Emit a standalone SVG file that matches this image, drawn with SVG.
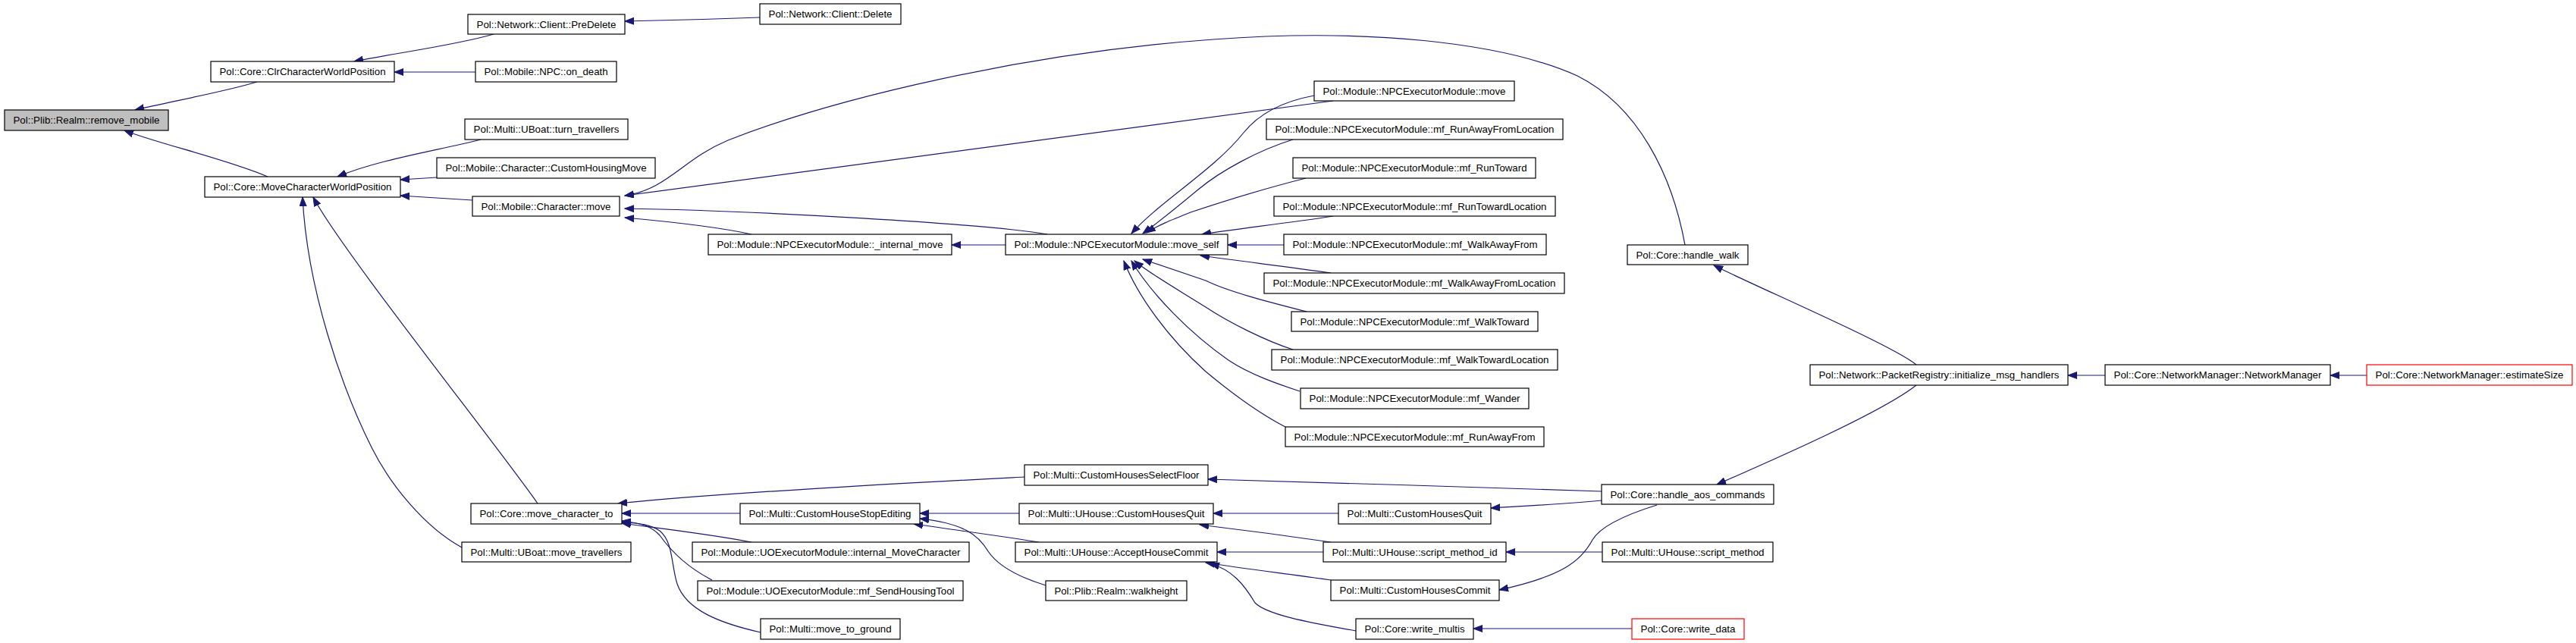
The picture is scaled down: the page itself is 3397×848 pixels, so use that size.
<svg xmlns="http://www.w3.org/2000/svg" width="3397" height="848" viewBox="0 0 3397 848">
<style>
.n rect{fill:#fff;stroke:#000;stroke-width:1.2}
.n text{font-family:"Liberation Sans",Arial,sans-serif;font-size:13px;text-anchor:middle;fill:#000}
.g rect{fill:#bfbfbf}
.r rect{stroke:#ff0000}
.e path{fill:none;stroke:#191970;stroke-width:1.2;marker-end:url(#a)}
</style>
<defs>
<marker id="a" markerUnits="userSpaceOnUse" markerWidth="13" markerHeight="10" viewBox="0 0 13 10" refX="12" refY="5" orient="auto">
<path d="M0,0.5 L12,5 L0,9.5 z" fill="#191970" stroke="#191970" stroke-width="1"/>
</marker>
</defs>
<rect width="3397" height="848" fill="#fff"/>
<g id="edges" class="e">
<path d="M339,108 C300,120 230,133 178,145"/>
<path d="M353,233 C300,210 210,190 164,172"/>
<path d="M651,45 C600,60 520,70 467,81"/>
<path d="M627,95 L520,95"/>
<path d="M1002,23 C950,25 880,27 824,28"/>
<path d="M634,184 C580,198 500,210 445,233"/>
<path d="M576,234 L528,237"/>
<path d="M623,264 L528,258"/>
<path d="M709,664 C650,580 450,330 413,260"/>
<path d="M609,722 C560,695 515,640 490,590 C450,510 405,380 399,260"/>
<path d="M1758,133 L824,258"/>
<path d="M2222,323 C2205,230 2160,140 2080,100 C1980,55 1800,37 1600,52 C1350,70 1100,130 960,185 C900,210 880,250 824,258"/>
<path d="M1381,309 C1300,295 1000,278 824,275"/>
<path d="M991,309 C950,300 880,292 824,287"/>
<path d="M1326,323 L1255,323"/>
<path d="M1733,126 C1690,134 1660,150 1640,175 C1600,225 1530,265 1492,308"/>
<path d="M1705,184 C1660,198 1610,225 1580,250 C1550,275 1525,295 1507,308"/>
<path d="M1722,235 C1670,248 1600,270 1570,280 C1545,290 1525,298 1512,307"/>
<path d="M1758,285 C1700,294 1630,302 1585,309"/>
<path d="M1693,323 L1619,323"/>
<path d="M1755,360 C1700,352 1640,345 1583,337"/>
<path d="M1723,411 C1680,400 1620,385 1590,370 C1560,360 1530,350 1507,342"/>
<path d="M1705,461 C1670,450 1620,425 1590,405 C1550,380 1515,360 1496,344"/>
<path d="M1714,516 C1690,508 1650,495 1620,475 C1570,440 1520,390 1492,344"/>
<path d="M1695,563 C1660,545 1620,515 1590,490 C1540,445 1500,390 1482,344"/>
<path d="M2527,481 C2495,455 2320,380 2260,350"/>
<path d="M2527,508 C2480,545 2330,610 2264,639"/>
<path d="M2112,648 C2000,645 1700,634 1593,632"/>
<path d="M2112,660 C2060,665 2000,668 1966,670"/>
<path d="M2185,666 C2140,680 2110,695 2100,712 C2085,740 2060,760 1977,778"/>
<path d="M1765,677 L1600,677"/>
<path d="M1755,715 C1700,707 1640,699 1582,692"/>
<path d="M1745,728 L1605,728"/>
<path d="M1755,765 C1700,757 1640,750 1590,742"/>
<path d="M1788,832 C1720,820 1670,810 1655,795 C1640,770 1625,752 1596,743"/>
<path d="M2152,829 L1943,829"/>
<path d="M2113,728 L1986,728"/>
<path d="M2776,495 L2727,495"/>
<path d="M3121,495 L3073,495"/>
<path d="M1351,629 C1200,637 950,650 815,664"/>
<path d="M976,677 L820,677"/>
<path d="M991,715 C940,705 880,698 820,690"/>
<path d="M939,765 C900,745 880,720 870,706 C860,695 848,690 820,687"/>
<path d="M1003,834 C950,822 905,805 893,770 C885,745 888,715 870,700 C858,692 845,690 820,689"/>
<path d="M1344,677 L1213,677"/>
<path d="M1379,772 C1340,760 1315,745 1303,727 C1290,705 1270,690 1213,684"/>
<path d="M1370,715 C1320,707 1260,699 1205,691"/>
</g>
<g id="n_remove" class="n g"><rect x="6" y="145" width="216" height="27"/><text x="114" y="163" textLength="193" lengthAdjust="spacingAndGlyphs">Pol::Plib::Realm::remove_mobile</text></g>
<g id="n_clr" class="n"><rect x="278" y="81" width="242" height="27"/><text x="399" y="99" textLength="219" lengthAdjust="spacingAndGlyphs">Pol::Core::ClrCharacterWorldPosition</text></g>
<g id="n_mcwp" class="n"><rect x="270" y="233" width="258" height="27"/><text x="399" y="251" textLength="235" lengthAdjust="spacingAndGlyphs">Pol::Core::MoveCharacterWorldPosition</text></g>
<g id="n_predelete" class="n"><rect x="617" y="19" width="207" height="26"/><text x="720.5" y="36.5" textLength="184" lengthAdjust="spacingAndGlyphs">Pol::Network::Client::PreDelete</text></g>
<g id="n_ondeath" class="n"><rect x="627" y="81" width="186" height="27"/><text x="720" y="99" textLength="163" lengthAdjust="spacingAndGlyphs">Pol::Mobile::NPC::on_death</text></g>
<g id="n_turn" class="n"><rect x="613" y="157" width="215" height="27"/><text x="720.5" y="175" textLength="192" lengthAdjust="spacingAndGlyphs">Pol::Multi::UBoat::turn_travellers</text></g>
<g id="n_chm" class="n"><rect x="576" y="208" width="288" height="27"/><text x="720" y="226" textLength="265" lengthAdjust="spacingAndGlyphs">Pol::Mobile::Character::CustomHousingMove</text></g>
<g id="n_charmove" class="n"><rect x="623" y="259" width="194" height="26"/><text x="720" y="276.5" textLength="171" lengthAdjust="spacingAndGlyphs">Pol::Mobile::Character::move</text></g>
<g id="n_mct" class="n"><rect x="621" y="664" width="199" height="27"/><text x="720.5" y="682" textLength="176" lengthAdjust="spacingAndGlyphs">Pol::Core::move_character_to</text></g>
<g id="n_mtrav" class="n"><rect x="609" y="715" width="223" height="26"/><text x="720.5" y="732.5" textLength="200" lengthAdjust="spacingAndGlyphs">Pol::Multi::UBoat::move_travellers</text></g>
<g id="n_delete" class="n"><rect x="1002" y="5" width="186" height="27"/><text x="1095" y="23" textLength="163" lengthAdjust="spacingAndGlyphs">Pol::Network::Client::Delete</text></g>
<g id="n_intmove" class="n"><rect x="934" y="309" width="321" height="27"/><text x="1094.5" y="327" textLength="298" lengthAdjust="spacingAndGlyphs">Pol::Module::NPCExecutorModule::_internal_move</text></g>
<g id="n_moveself" class="n"><rect x="1326" y="309" width="293" height="27"/><text x="1472.5" y="327" textLength="270" lengthAdjust="spacingAndGlyphs">Pol::Module::NPCExecutorModule::move_self</text></g>
<g id="n_npcmove" class="n"><rect x="1733" y="107" width="264" height="26"/><text x="1865" y="124.5" textLength="241" lengthAdjust="spacingAndGlyphs">Pol::Module::NPCExecutorModule::move</text></g>
<g id="n_rafl" class="n"><rect x="1670" y="157" width="391" height="27"/><text x="1865.5" y="175" textLength="368" lengthAdjust="spacingAndGlyphs">Pol::Module::NPCExecutorModule::mf_RunAwayFromLocation</text></g>
<g id="n_rt" class="n"><rect x="1705" y="208" width="320" height="27"/><text x="1865" y="226" textLength="297" lengthAdjust="spacingAndGlyphs">Pol::Module::NPCExecutorModule::mf_RunToward</text></g>
<g id="n_rtl" class="n"><rect x="1680" y="259" width="371" height="26"/><text x="1865.5" y="276.5" textLength="348" lengthAdjust="spacingAndGlyphs">Pol::Module::NPCExecutorModule::mf_RunTowardLocation</text></g>
<g id="n_waf" class="n"><rect x="1693" y="309" width="346" height="27"/><text x="1866" y="327" textLength="323" lengthAdjust="spacingAndGlyphs">Pol::Module::NPCExecutorModule::mf_WalkAwayFrom</text></g>
<g id="n_wafl" class="n"><rect x="1667" y="360" width="396" height="27"/><text x="1865" y="378" textLength="373" lengthAdjust="spacingAndGlyphs">Pol::Module::NPCExecutorModule::mf_WalkAwayFromLocation</text></g>
<g id="n_wt" class="n"><rect x="1703" y="411" width="325" height="26"/><text x="1865.5" y="428.5" textLength="302" lengthAdjust="spacingAndGlyphs">Pol::Module::NPCExecutorModule::mf_WalkToward</text></g>
<g id="n_wtl" class="n"><rect x="1677" y="461" width="377" height="27"/><text x="1865.5" y="479" textLength="354" lengthAdjust="spacingAndGlyphs">Pol::Module::NPCExecutorModule::mf_WalkTowardLocation</text></g>
<g id="n_wander" class="n"><rect x="1715" y="512" width="301" height="27"/><text x="1865.5" y="530" textLength="278" lengthAdjust="spacingAndGlyphs">Pol::Module::NPCExecutorModule::mf_Wander</text></g>
<g id="n_raf" class="n"><rect x="1695" y="563" width="341" height="26"/><text x="1865.5" y="580.5" textLength="318" lengthAdjust="spacingAndGlyphs">Pol::Module::NPCExecutorModule::mf_RunAwayFrom</text></g>
<g id="n_handlewalk" class="n"><rect x="2146" y="323" width="159" height="26"/><text x="2225.5" y="340.5" textLength="136" lengthAdjust="spacingAndGlyphs">Pol::Core::handle_walk</text></g>
<g id="n_packet" class="n"><rect x="2387" y="481" width="340" height="27"/><text x="2557" y="499" textLength="317" lengthAdjust="spacingAndGlyphs">Pol::Network::PacketRegistry::initialize_msg_handlers</text></g>
<g id="n_netmgr" class="n"><rect x="2776" y="481" width="297" height="27"/><text x="2924.5" y="499" textLength="274" lengthAdjust="spacingAndGlyphs">Pol::Core::NetworkManager::NetworkManager</text></g>
<g id="n_estimate" class="n r"><rect x="3121" y="481" width="271" height="27"/><text x="3256.5" y="499" textLength="248" lengthAdjust="spacingAndGlyphs">Pol::Core::NetworkManager::estimateSize</text></g>
<g id="n_selfloor" class="n"><rect x="1351" y="613" width="242" height="27"/><text x="1472" y="631" textLength="219" lengthAdjust="spacingAndGlyphs">Pol::Multi::CustomHousesSelectFloor</text></g>
<g id="n_stopedit" class="n"><rect x="976" y="664" width="237" height="27"/><text x="1094.5" y="682" textLength="214" lengthAdjust="spacingAndGlyphs">Pol::Multi::CustomHouseStopEditing</text></g>
<g id="n_uhquit" class="n"><rect x="1344" y="664" width="256" height="27"/><text x="1472" y="682" textLength="233" lengthAdjust="spacingAndGlyphs">Pol::Multi::UHouse::CustomHousesQuit</text></g>
<g id="n_intmovechar" class="n"><rect x="913" y="715" width="365" height="26"/><text x="1095.5" y="732.5" textLength="342" lengthAdjust="spacingAndGlyphs">Pol::Module::UOExecutorModule::internal_MoveCharacter</text></g>
<g id="n_accept" class="n"><rect x="1339" y="715" width="266" height="26"/><text x="1472" y="732.5" textLength="243" lengthAdjust="spacingAndGlyphs">Pol::Multi::UHouse::AcceptHouseCommit</text></g>
<g id="n_sendtool" class="n"><rect x="920" y="766" width="350" height="26"/><text x="1095" y="783.5" textLength="327" lengthAdjust="spacingAndGlyphs">Pol::Module::UOExecutorModule::mf_SendHousingTool</text></g>
<g id="n_walkheight" class="n"><rect x="1379" y="766" width="186" height="26"/><text x="1472" y="783.5" textLength="163" lengthAdjust="spacingAndGlyphs">Pol::Plib::Realm::walkheight</text></g>
<g id="n_mtg" class="n"><rect x="1003" y="816" width="184" height="27"/><text x="1095" y="834" textLength="161" lengthAdjust="spacingAndGlyphs">Pol::Multi::move_to_ground</text></g>
<g id="n_aos" class="n"><rect x="2112" y="639" width="227" height="26"/><text x="2225.5" y="656.5" textLength="204" lengthAdjust="spacingAndGlyphs">Pol::Core::handle_aos_commands</text></g>
<g id="n_quit" class="n"><rect x="1765" y="664" width="201" height="27"/><text x="1865.5" y="682" textLength="178" lengthAdjust="spacingAndGlyphs">Pol::Multi::CustomHousesQuit</text></g>
<g id="n_smid" class="n"><rect x="1745" y="715" width="241" height="26"/><text x="1865.5" y="732.5" textLength="218" lengthAdjust="spacingAndGlyphs">Pol::Multi::UHouse::script_method_id</text></g>
<g id="n_sm" class="n"><rect x="2113" y="715" width="225" height="26"/><text x="2225.5" y="732.5" textLength="202" lengthAdjust="spacingAndGlyphs">Pol::Multi::UHouse::script_method</text></g>
<g id="n_commit" class="n"><rect x="1755" y="765" width="222" height="27"/><text x="1866" y="783" textLength="199" lengthAdjust="spacingAndGlyphs">Pol::Multi::CustomHousesCommit</text></g>
<g id="n_writemultis" class="n"><rect x="1788" y="816" width="155" height="27"/><text x="1865.5" y="834" textLength="132" lengthAdjust="spacingAndGlyphs">Pol::Core::write_multis</text></g>
<g id="n_writedata" class="n r"><rect x="2152" y="816" width="148" height="27"/><text x="2226" y="834" textLength="125" lengthAdjust="spacingAndGlyphs">Pol::Core::write_data</text></g>
</svg>
